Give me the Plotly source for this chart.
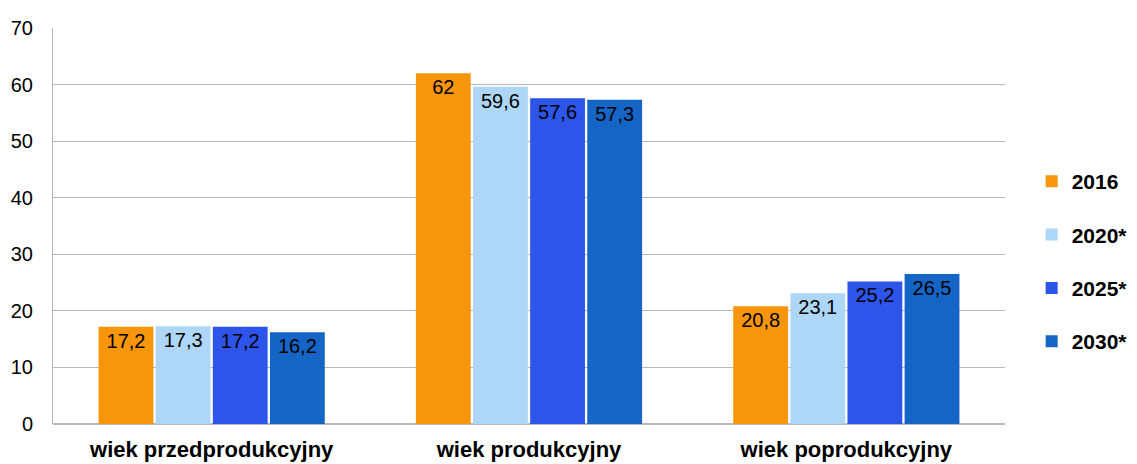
import plotly.graph_objects as go

categories = ["wiek przedprodukcyjny", "wiek produkcyjny", "wiek poprodukcyjny"]
series_names = ["2016", "2020*", "2025*", "2030*"]
v2016 = [17.2, 62, 20.8]
v2020 = [17.3, 59.6, 23.1]
v2025 = [17.2, 57.6, 25.2]
v2030 = [16.2, 57.3, 26.5]
y_ticks = [0, 10, 20, 30, 40, 50, 60, 70]

values = [v2016, v2020, v2025, v2030]
colors = ["#F7960C", "#AED6F6", "#2D55EA", "#1565C6"]

fig = go.Figure()
for i, (name, vals, col) in enumerate(zip(series_names, values, colors)):
    fig.add_trace(go.Bar(
        x=categories, y=vals, name=name,
        marker=dict(color=col, line=dict(width=0)),
        texttemplate="%{y}", textposition="inside", insidetextanchor="end",
        textfont=dict(family="Liberation Sans, Arial", size=20, color="black"),
        legendgroup=name,
    ))

# page body has an 8px margin, so the figure is sized/offset to compensate
fig.update_layout(
    width=1129, height=456,
    margin=dict(l=45, r=132, t=20, b=40, autoexpand=False),
    paper_bgcolor="white", plot_bgcolor="white",
    barmode="group", bargap=0.28, bargroupgap=0.04,
    separators=", ",
    font=dict(family="Liberation Sans, Arial", color="black"),
    showlegend=True,
    legend=dict(x=1.028, y=0.41, xanchor="left", yanchor="middle",
                font=dict(size=21, family="Liberation Sans, Arial", weight="bold"),
                tracegroupgap=23, bgcolor="rgba(0,0,0,0)"),
    uniformtext=dict(minsize=10, mode="show"),
)
fig.update_yaxes(range=[0, 70], tickvals=y_ticks, showgrid=True, gridcolor="#B8B8B8",
                 gridwidth=1, zeroline=True, zerolinecolor="#B8B8B8",
                 ticks="outside", ticklen=15, tickcolor="rgba(0,0,0,0)",
                 tickfont=dict(size=20), showline=True, linecolor="#B8B8B8",
                 automargin=False)
fig.update_xaxes(ticks="outside", ticklen=6, tickcolor="rgba(0,0,0,0)",
                 tickfont=dict(size=22, weight="bold"), showline=False,
                 automargin=False)

fig.write_html("out.html")
